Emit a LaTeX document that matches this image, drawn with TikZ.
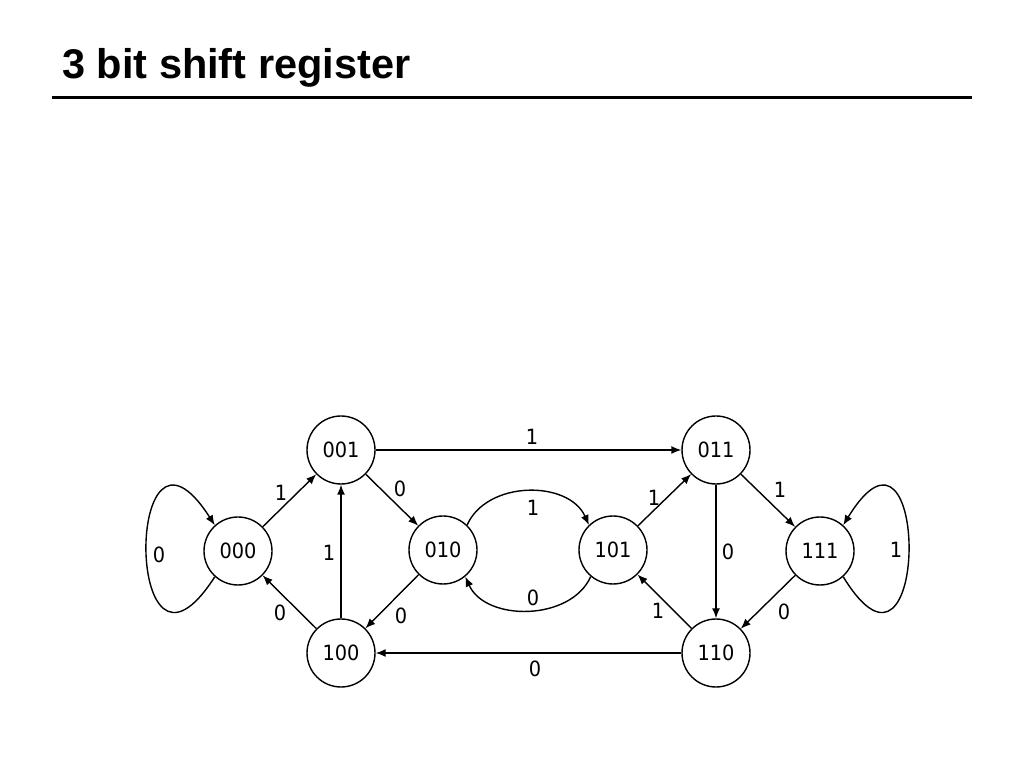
\documentclass[tikz,border=0pt]{standalone}
\usepackage{fontspec}
\setmainfont{Liberation Sans}
\newfontfamily\lblfont[FakeStretch=0.92]{DejaVu Sans}
\usetikzlibrary{arrows.meta}
\tikzset{
  state/.style={circle,draw,line width=1.4pt,minimum size=68pt,inner sep=0pt,font=\lblfont\fontsize{21}{23}\selectfont},
  lbl/.style={inner sep=0pt,font=\lblfont\fontsize{21}{23}\selectfont},
  edge/.style={line width=1.4pt,-{Latex[length=10pt,width=8pt]}},
}
\begin{document}
\begin{tikzpicture}[x=1pt,y=1pt]
\useasboundingbox (0,0) rectangle (1024,768);
\fill[white] (0,0) rectangle (1024,768);
% title
\node[anchor=base west,inner sep=0pt,font=\bfseries\fontsize{41.5}{44}\selectfont] (title) at (62,689) {3 bit shift register};
\coordinate (rl) at (52,670);
\coordinate (rr) at (972,670);
\draw[line width=3pt] (rl) -- (rr);
% states
\node[state] (n000) at (238,217) {000};
\node[state] (n001) at (341,318) {001};
\node[state] (n010) at (443,218) {010};
\node[state] (n101) at (613,218) {101};
\node[state] (n011) at (716,318) {011};
\node[state] (n111) at (820,217) {111};
\node[state] (n100) at (341,115) {100};
\node[state] (n110) at (716,115) {110};
% transitions
\draw[edge] (n000) -- (n001);
\draw[edge] (n001) -- (n010);
\draw[edge] (n001) -- (n011);
\draw[edge] (n100) -- (n001);
\draw[edge] (n100) -- (n000);
\draw[edge] (n010) -- (n100);
\draw[edge] (n010.46) .. controls +(20,45) and +(-20,45) .. (n101.134);
\draw[edge] (n101.-130) .. controls +(-20,-45) and +(20,-45) .. (n010.-50);
\draw[edge] (n101) -- (n011);
\draw[edge] (n110) -- (n101);
\draw[edge] (n011) -- (n111);
\draw[edge] (n111) -- (n110);
\draw[edge] (n011) -- (n110);
\draw[edge] (n110) -- (n100);
\draw[edge] (n000.-132) .. controls +(-91,-142) and +(-91,142) .. (n000.132);
\draw[edge] (n111.-48) .. controls +(87,-142) and +(87,142) .. (n111.48);
% labels
\node[lbl] (l1) at (281,275) {1};
\node[lbl] (l2) at (400,279) {0};
\node[lbl] (l3) at (532,331) {1};
\node[lbl] (l4) at (533,260) {1};
\node[lbl] (l5) at (533,170) {0};
\node[lbl] (l6) at (654,270) {1};
\node[lbl] (l7) at (780,278) {1};
\node[lbl] (l8) at (159,213) {0};
\node[lbl] (l9) at (329,215) {1};
\node[lbl] (l10) at (728,216) {0};
\node[lbl] (l11) at (896,218) {1};
\node[lbl] (l12) at (280,155) {0};
\node[lbl] (l13) at (401,152) {0};
\node[lbl] (l14) at (658,157) {1};
\node[lbl] (l15) at (784,156) {0};
\node[lbl] (l16) at (535,99) {0};
\end{tikzpicture}
\end{document}
